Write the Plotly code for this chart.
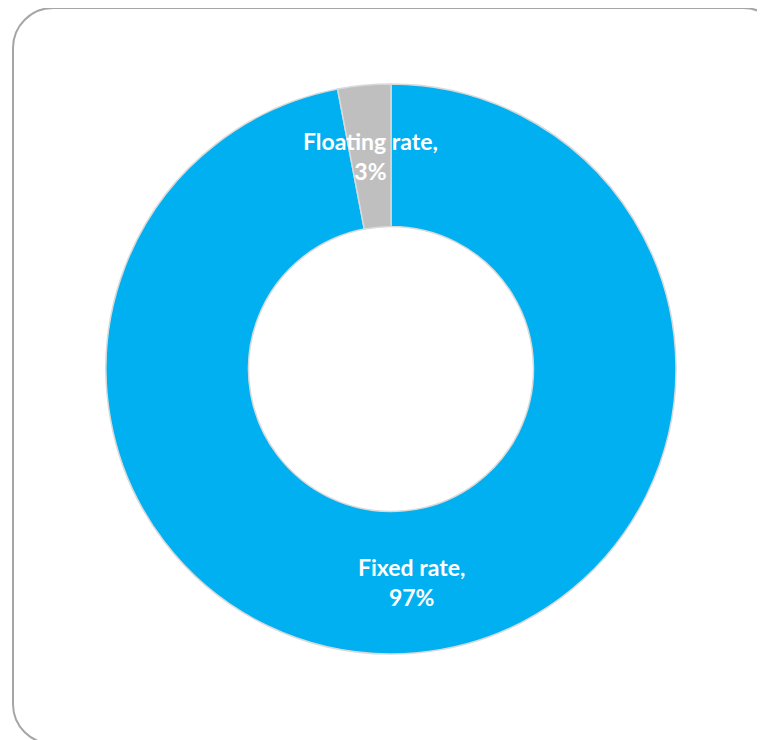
import math
import plotly.graph_objects as go

# Data
categories = ["Fixed rate", "Floating rate"]
values = [97, 3]
colors = ["#00B0F0", "#BFBFBF"]

W, H = 765, 740
OFF = 8  # page body margin
CX, CY, R_OUT = 391, 369, 285
HOLE = 0.5

def px(x):
    return (x - OFF) / W

def py(y):
    return 1 - (y - OFF) / H

fig = go.Figure(go.Pie(
    labels=categories,
    values=values,
    hole=HOLE,
    sort=False,
    direction="clockwise",
    rotation=0,
    textinfo="none",
    hoverinfo="label+percent",
    marker=dict(colors=colors, line=dict(color="#D9D9D9", width=1.5)),
    domain=dict(x=[px(CX - R_OUT), px(CX + R_OUT)], y=[py(CY + R_OUT), py(CY - R_OUT)]),
    showlegend=False,
))

# Labels placed at slice mid-angle, mid ring radius
total = sum(values)
r_mid = R_OUT * (1 + HOLE) / 2
cum = 0
annotations = []
for cat, v in zip(categories, values):
    mid = (cum + v / 2) / total * 2 * math.pi
    cum += v
    lx = CX + r_mid * math.sin(mid)
    ly = CY - r_mid * math.cos(mid)
    pct = round(v / total * 100)
    annotations.append(dict(
        x=px(lx), y=py(ly), xref="paper", yref="paper",
        text=f"<b>{cat},<br>{pct}%</b>", showarrow=False,
        font=dict(family="Lato", size=23, color="white"),
        xanchor="center", yanchor="middle", align="center",
    ))

# Rounded border
L, T, Rr, B, rad = 13, 8, 783, 744, 40
k = 0.5523 * rad
def P(x, y):
    return f"{px(x):.5f},{py(y):.5f}"
path = (
    f"M {P(L + rad, T)} L {P(Rr - rad, T)} "
    f"C {P(Rr - rad + k, T)} {P(Rr, T + rad - k)} {P(Rr, T + rad)} "
    f"L {P(Rr, B - rad)} "
    f"C {P(Rr, B - rad + k)} {P(Rr - rad + k, B)} {P(Rr - rad, B)} "
    f"L {P(L + rad, B)} "
    f"C {P(L + rad - k, B)} {P(L, B - rad + k)} {P(L, B - rad)} "
    f"L {P(L, T + rad)} "
    f"C {P(L, T + rad - k)} {P(L + rad - k, T)} {P(L + rad, T)} Z"
)

fig.update_layout(
    width=W, height=H,
    margin=dict(l=0, r=0, t=0, b=0),
    paper_bgcolor="white",
    plot_bgcolor="white",
    annotations=annotations,
    shapes=[dict(type="path", path=path, xref="paper", yref="paper",
                 line=dict(color="#A6A6A6", width=2), layer="above")],
)

fig.write_html("out.html")
